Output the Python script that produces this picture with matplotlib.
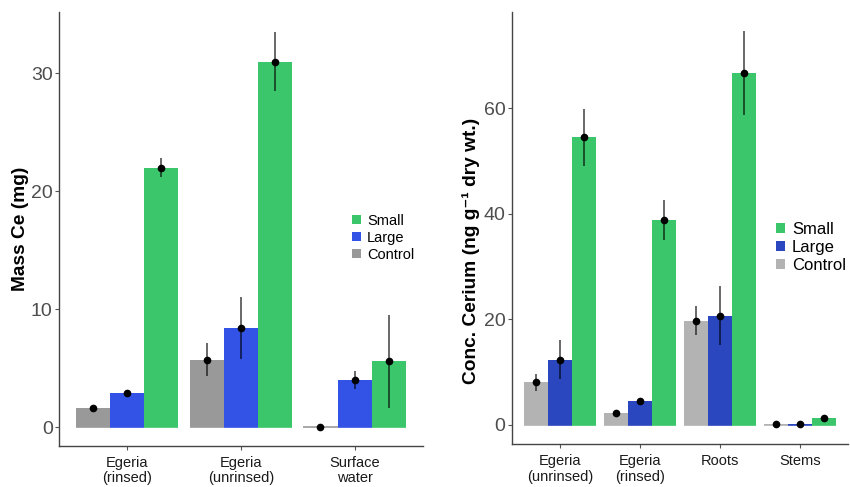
import numpy as np
import matplotlib.pyplot as plt

plt.rcParams['font.family'] = ['Liberation Sans', 'DejaVu Sans']

# left panel: mass of Ce
mass_groups = ['Egeria\n(rinsed)', 'Egeria\n(unrinsed)', 'Surface\nwater']
mass_control = [1.6, 5.7, 0.05]
mass_control_err = [0.15, 1.4, 0.05]
mass_large = [2.9, 8.4, 4.0]
mass_large_err = [0.15, 2.6, 0.8]
mass_small = [22.0, 31.0, 5.6]
mass_small_err = [0.8, 2.5, 3.95]

# right panel: concentration of Ce
conc_groups = ['Egeria\n(unrinsed)', 'Egeria\n(rinsed)', 'Roots', 'Stems']
conc_control = [8.1, 2.3, 19.8, 0.2]
conc_control_err = [1.6, 0.3, 2.7, 0.1]
conc_large = [12.4, 4.5, 20.7, 0.25]
conc_large_err = [3.7, 0.6, 5.6, 0.1]
conc_small = [54.5, 38.9, 66.7, 1.4]
conc_small_err = [5.4, 3.8, 7.9, 0.3]

series = ['Control', 'Large', 'Small']

fig = plt.figure(figsize=(8.5, 4.87), dpi=100)
ax1 = fig.add_axes([0.0694, 0.0842, 0.428, 0.891])
ax2 = fig.add_axes([0.602, 0.0877, 0.396, 0.888])


def draw_panel(ax, groups, vals, errs, colors, ylim, yticks, ylabel, label_xy,
               leg_anchor, fs_leg, spacing, hlen):
    x = np.arange(1, len(groups) + 1)
    w = 0.3
    handles = []
    for i, (v, e, c) in enumerate(zip(vals, errs, colors)):
        pos = x + (i - 1) * w
        b = ax.bar(pos, v, w, color=c, linewidth=0, label=series[i])
        handles.append(b)
        # bars near zero still show as a thin line
        ax.hlines(np.zeros(len(pos)), pos - w / 2, pos + w / 2, color=c, linewidth=1.2, zorder=1.5)
        ax.errorbar(pos, v, yerr=e, fmt='o', color='black', ms=4.5, elinewidth=1.1,
                    ecolor=(0, 0, 0, 0.75), capsize=0)
    ax.set_xlim(0.4, len(groups) + 0.6)
    ax.set_ylim(*ylim)
    ax.set_xticks(x)
    ax.set_xticklabels(groups, fontsize=10.5, color='#1a1a1a', linespacing=1.15)
    ax.set_yticks(yticks)
    ax.tick_params(axis='y', labelsize=14, labelcolor='#4d4d4d', length=3, color='#555555', pad=1.5)
    ax.tick_params(axis='x', length=3, color='#555555', pad=4)
    for s in ['top', 'right']:
        ax.spines[s].set_visible(False)
    for s in ['left', 'bottom']:
        ax.spines[s].set_color('#444444')
        ax.spines[s].set_linewidth(1.0)
    ax.set_ylabel(ylabel, fontsize=13.8, fontweight='bold')
    ax.yaxis.set_label_coords(*label_xy)
    leg = ax.legend(handles[::-1], series[::-1], loc='center left', bbox_to_anchor=leg_anchor,
                    frameon=False, fontsize=fs_leg, handlelength=hlen, handleheight=hlen,
                    handletextpad=0.4, labelspacing=spacing, borderaxespad=0)
    return leg


draw_panel(ax1, mass_groups,
           [mass_control, mass_large, mass_small],
           [mass_control_err, mass_large_err, mass_small_err],
           ['#999999', '#3352e6', '#3cc66b'],
           (-1.6, 35.2), [0, 10, 20, 30], 'Mass Ce (mg)', (-0.082, 0.5),
           (0.79, 0.48), 10.5, 0.2, 0.62)

draw_panel(ax2, conc_groups,
           [conc_control, conc_large, conc_small],
           [conc_control_err, conc_large_err, conc_small_err],
           ['#b3b3b3', '#2b47c0', '#3cc66b'],
           (-3.66, 78.3), [0, 20, 40, 60], 'Conc. Cerium (ng g\u207b\u00b9 dry wt.)', (-0.094, 0.447),
           (0.766, 0.455), 12, 0.2, 0.55)

fig.savefig('out.png', dpi=100)
